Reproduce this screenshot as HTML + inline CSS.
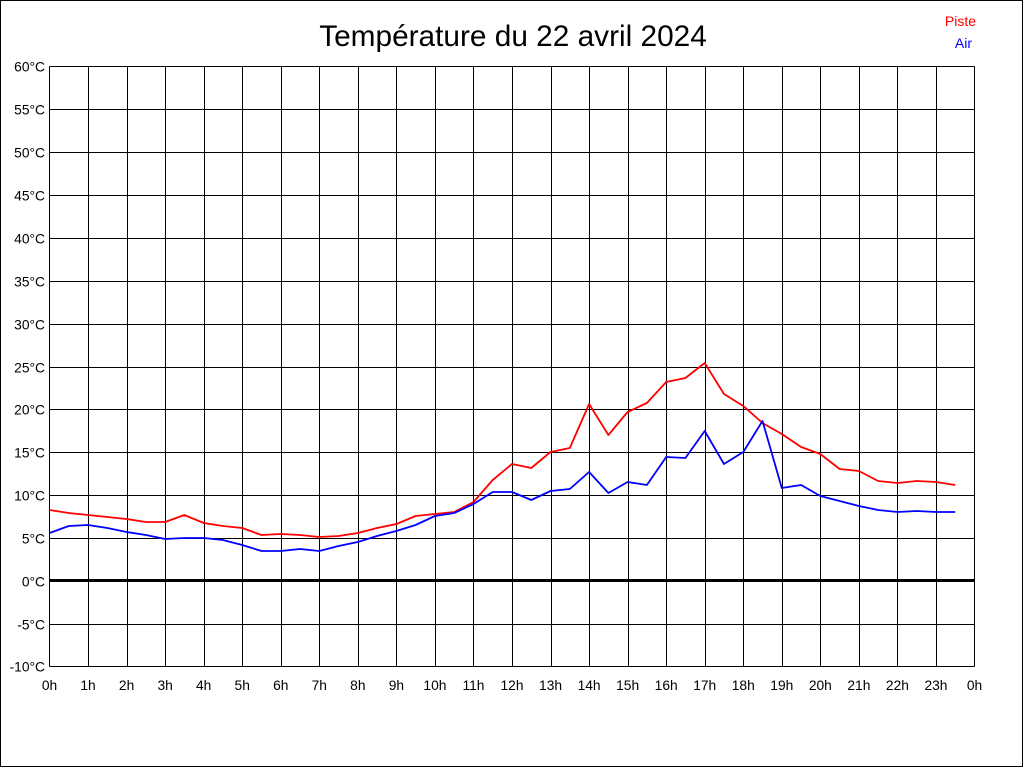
<!DOCTYPE html>
<html><head><meta charset="utf-8"><style>html,body{margin:0;padding:0;background:#fff}svg{display:block}</style></head>
<body>
<svg id="s" width="1024" height="768" xmlns="http://www.w3.org/2000/svg" font-family="Liberation Sans, Arial, sans-serif">
<rect x="0.5" y="0.5" width="1022" height="766" fill="#fff" stroke="#000"/>
<text x="513" y="46" font-size="29.8" text-anchor="middle">Température du 22 avril 2024</text>
<text x="976" y="26" font-size="14" fill="#f00" text-anchor="end">Piste</text>
<text x="972" y="48" font-size="14" fill="#00f" text-anchor="end">Air</text>
<g id="g" stroke="#000" stroke-width="1" shape-rendering="crispEdges"></g>
<g id="t" font-size="13.8" fill="#000"></g>
<polyline id="red" fill="none" stroke="#f00" stroke-width="1.8" stroke-linejoin="round"/>
<polyline id="blue" fill="none" stroke="#00f" stroke-width="1.8" stroke-linejoin="round"/>
</svg>
<script>
var ns="http://www.w3.org/2000/svg",g=document.getElementById('g'),t=document.getElementById('t');
function el(p,n,a){var e=document.createElementNS(ns,n);for(var k in a)e.setAttribute(k,a[k]);p.appendChild(e);return e;}
var L=49.5,R=974.5,T=66.5,B=666.5,dx=(R-L)/24,dy=(B-T)/14;
for(var i=0;i<=24;i++){var x=Math.round(L+dx*i)+0.5;if(i==0)x=L;if(i==24)x=R;el(g,'line',{x1:x,y1:T,x2:x,y2:B});
var tx=el(t,'text',{x:L+dx*i,y:690,'text-anchor':'middle'});tx.textContent=(i%24)+'h';}
for(var j=0;j<=14;j++){var y=Math.round(T+dy*j)+0.5;if(j==0)y=T;if(j==14)y=B;var v=60-5*j;
if(v==0){el(g,'line',{x1:L,y1:580.5,x2:R,y2:580.5,'stroke-width':3});}else el(g,'line',{x1:L,y1:y,x2:R,y2:y});
var ty=el(t,'text',{x:45,y:y+5,'text-anchor':'end'});ty.textContent=v+'°C';}
var r=[510,513,515,517,519,522,522,515,523,526,528,535,534,535,537,536,533,528,524,516,514,512,502,480,464,468,452,448,404,435,412,403,382,378,363,394,406,423,434,447,454,469,471,481,483,481,482,485];
var b=[533,526,525,528,532,535,539,538,538,540,545,551,551,549,551,546,542,536,531,525,516,513,504,492,492,500,491,489,472,493,482,485,457,458,431,464,452,421,488,485,496,501,506,510,512,511,512,512];
function pts(a){return a.map(function(y,i){return (L+dx*i/2).toFixed(1)+','+y}).join(' ');}
document.getElementById('red').setAttribute('points',pts(r));
document.getElementById('blue').setAttribute('points',pts(b));
</script>
</body></html>
